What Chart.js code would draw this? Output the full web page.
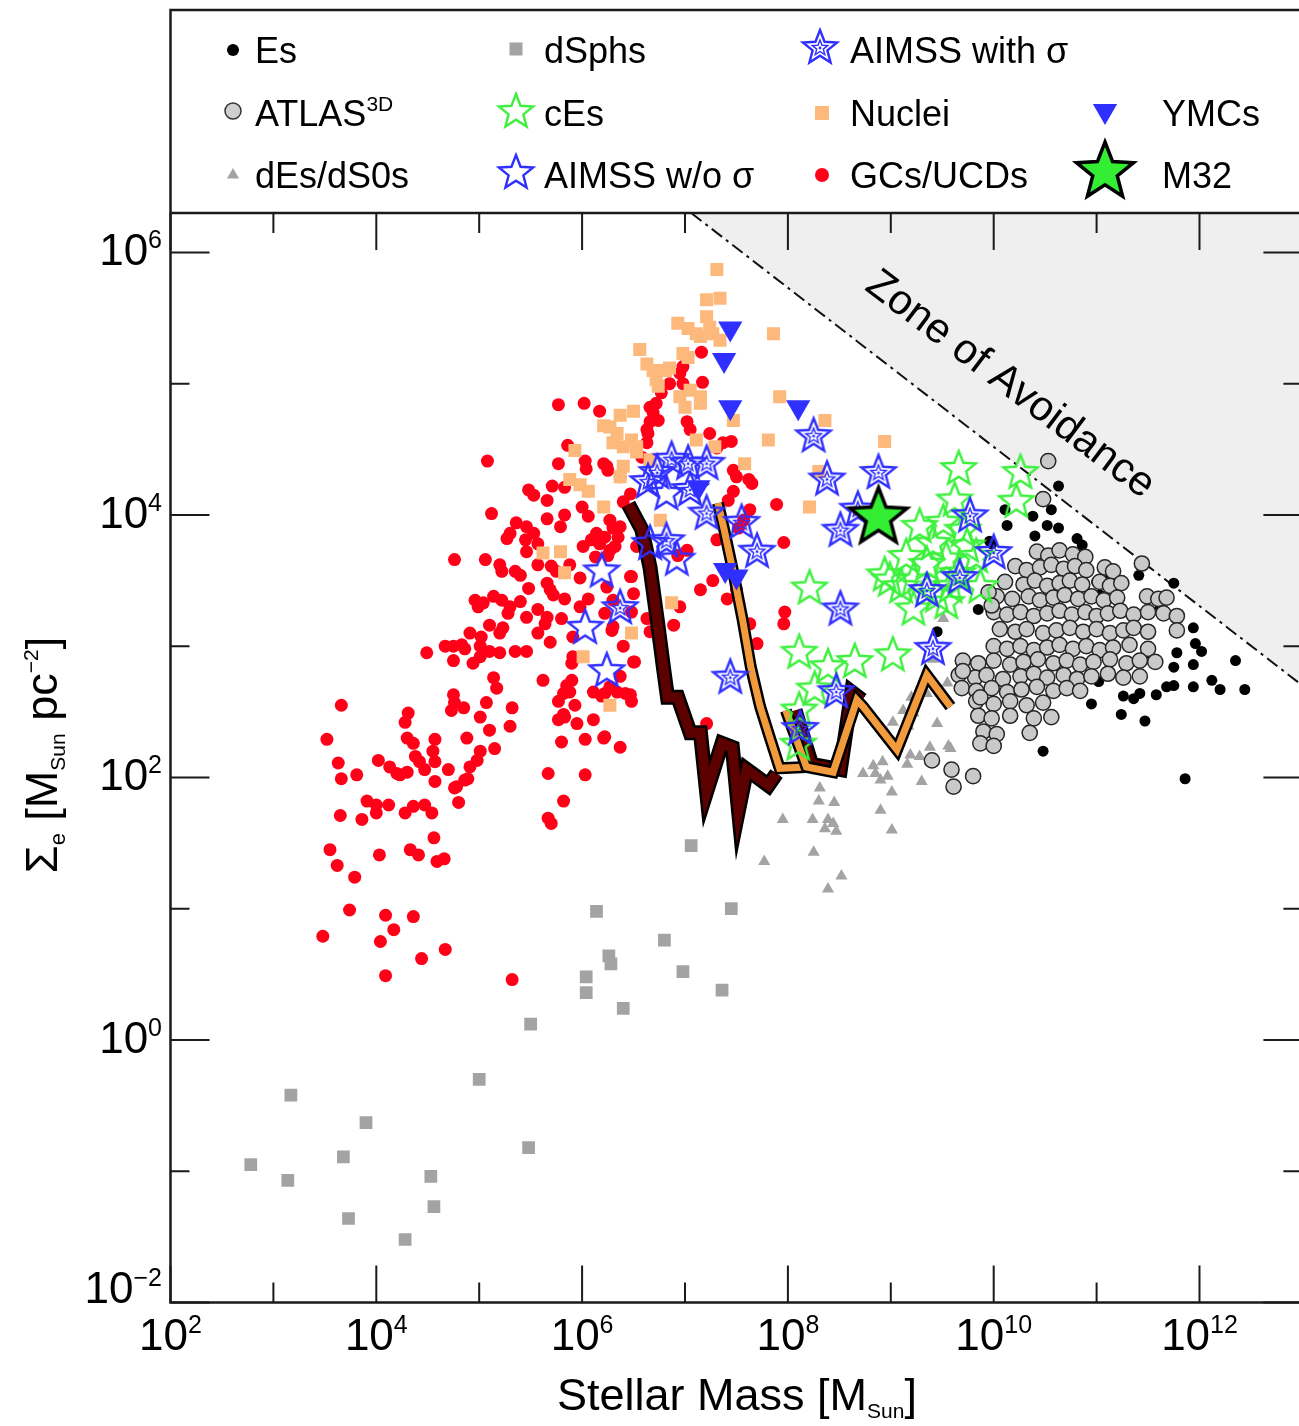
<!DOCTYPE html>
<html>
<head>
<meta charset="utf-8">
<script src="https://cdn.jsdelivr.net/npm/chart.js@4.4.1/dist/chart.umd.min.js"></script>
<style>
html,body{margin:0;padding:0;overflow:hidden;background:#fff;}
canvas{display:block;}
</style>
</head>
<body>
<canvas id="c" width="1304" height="1426"></canvas>
<script>
// ---------- DATA: pairs of [log10 M* (M_Sun), log10 Sigma_e (M_Sun pc^-2)] ----------
const X_TICK_EXPONENTS = [2, 4, 6, 8, 10, 12];
const Y_TICK_EXPONENTS = [-2, 0, 2, 4, 6];

const ES_LOG = [[10.63,4.22],[10.11,4.04],[10.13,3.92],[10.38,3.99],[10.56,4.04],[10.52,3.92],[10.63,3.90],[10.40,3.84],[10.81,3.82],[10.86,3.77],[11.00,3.49],[11.75,3.48],[11.41,3.54],[9.98,3.78],[9.85,3.28],[9.45,3.11],[11.94,3.14],[11.96,3.02],[12.02,2.96],[11.78,2.95],[11.75,2.84],[11.94,2.86],[12.35,2.89],[12.12,2.74],[12.20,2.67],[12.44,2.67],[11.94,2.69],[11.75,2.70],[11.68,2.69],[11.58,2.63],[11.42,2.64],[11.36,2.60],[11.26,2.62],[11.24,2.48],[11.47,2.43],[10.95,2.56],[11.02,2.73],[10.48,2.20],[11.86,1.99],[11.32,3.00],[11.49,2.95],[11.58,3.35],[11.61,3.28],[11.36,3.22],[11.10,3.50],[11.03,3.39],[10.16,2.49],[9.92,2.36],[9.96,3.80]];

const ATLAS_LOG = [[10.53,4.41],[10.48,4.12],[11.44,3.63],
[10.42,3.72],[10.53,3.69],[10.64,3.73],[10.77,3.70],[10.89,3.68],
[10.21,3.61],[10.32,3.58],[10.45,3.60],[10.56,3.62],[10.68,3.59],[10.79,3.61],[10.90,3.58],[11.08,3.60],[11.16,3.57],
[10.11,3.49],[10.29,3.47],[10.40,3.50],[10.52,3.46],[10.64,3.48],[10.74,3.50],[10.86,3.47],[11.03,3.49],[11.13,3.46],[11.24,3.48],
[10.03,3.38],[10.18,3.36],[10.34,3.38],[10.45,3.35],[10.58,3.37],[10.69,3.39],[10.82,3.36],[10.95,3.38],[11.07,3.35],[11.20,3.37],[11.49,3.38],[11.60,3.36],[11.68,3.37],
[10.00,3.26],[10.13,3.24],[10.26,3.26],[10.39,3.23],[10.52,3.25],[10.64,3.27],[10.76,3.24],[10.89,3.26],[11.00,3.23],[11.11,3.25],[11.23,3.27],[11.36,3.24],[11.50,3.26],[11.65,3.25],[11.78,3.23],
[10.06,3.13],[10.21,3.11],[10.32,3.13],[10.48,3.10],[10.61,3.12],[10.74,3.14],[10.87,3.11],[11.00,3.13],[11.13,3.10],[11.26,3.12],[11.36,3.14],[11.50,3.11],[11.78,3.12],
[10.00,3.00],[10.13,2.98],[10.26,3.00],[10.39,2.97],[10.52,2.99],[10.64,3.01],[10.77,2.98],[10.90,3.00],[11.03,2.97],[11.16,2.99],[11.32,3.01],[11.50,2.98],
[9.70,2.89],[9.85,2.87],[10.00,2.89],[10.16,2.86],[10.29,2.88],[10.43,2.90],[10.58,2.87],[10.71,2.89],[10.84,2.86],[10.97,2.88],[11.13,2.90],[11.29,2.87],[11.42,2.89],[11.57,2.88],
[9.66,2.78],[9.82,2.76],[9.93,2.78],[10.09,2.75],[10.26,2.77],[10.39,2.79],[10.52,2.76],[10.68,2.78],[10.81,2.75],[10.95,2.77],[11.11,2.79],[11.26,2.76],[11.42,2.77],
[9.69,2.68],[9.83,2.66],[9.98,2.68],[10.13,2.65],[10.27,2.67],[10.42,2.69],[10.58,2.66],[10.71,2.68],[10.84,2.66],
[9.83,2.58],[10.00,2.56],[10.16,2.58],[10.32,2.55],[10.48,2.57],
[9.85,2.47],[9.98,2.45],[10.16,2.47],[10.39,2.45],[10.56,2.46],
[9.90,2.35],[10.03,2.33],[10.35,2.34],[9.87,2.26],[10.00,2.24],
[9.40,2.13],[9.59,2.06],[9.80,2.01],[9.61,1.93],[9.70,2.81],[9.87,2.61],[9.95,3.41],[9.98,3.31]];

const DES_LOG = [[7.95,1.68],[7.77,1.36],[8.25,1.43],[8.30,1.82],[8.45,1.81],[8.31,1.92],[8.39,1.68],[8.36,1.61],[8.47,1.59],[8.52,1.25],[8.39,1.15],[8.90,1.75],[9.01,1.60],[9.01,1.89],[9.30,1.97],[8.97,2.01],[8.85,2.03],[9.16,2.10],[8.73,2.03],[9.12,2.51],[9.20,2.61],[9.35,2.64],[9.55,2.72],[9.45,2.41],[9.56,2.24],[9.38,2.23],[9.28,2.16],[9.17,2.39],[9.02,2.42],[8.96,2.34],[8.92,2.12],[8.83,2.09],[8.90,1.98],[8.44,1.65],[8.24,1.68],[9.51,3.21],[9.41,2.90],[9.22,2.49],[9.58,2.22],[9.19,2.17]];

const DSPH_LOG = [[7.06,1.48],[6.14,0.98],[7.45,1.00],[6.80,0.76],[6.26,0.64],[6.28,0.58],[6.98,0.52],[6.04,0.48],[6.04,0.36],[7.36,0.38],[6.40,0.24],[5.50,0.12],[5.00,-0.30],[3.17,-0.42],[3.90,-0.63],[3.68,-0.89],[5.48,-0.82],[2.78,-0.95],[4.53,-1.04],[3.14,-1.07],[4.56,-1.27],[3.73,-1.36],[4.28,-1.52]];

const NUCLEI_LOG = [[7.31,5.87],[7.21,5.64],[7.34,5.65],[7.21,5.51],[6.93,5.46],[7.03,5.42],[7.11,5.38],[7.15,5.36],[7.27,5.38],[7.34,5.33],[7.24,5.43],[6.56,5.26],[6.98,5.23],[7.03,5.20],[6.63,5.15],[6.69,5.10],[6.81,5.10],[6.85,5.12],[6.72,5.03],[6.74,4.98],[6.95,4.90],[7.05,4.95],[7.15,4.90],[7.15,4.85],[7.00,4.82],[7.86,5.38],[7.92,4.90],[7.47,4.72],[8.36,4.72],[7.81,4.57],[8.94,4.56],[6.37,4.76],[6.50,4.79],[6.27,4.67],[6.34,4.62],[6.48,4.57],[6.53,4.52],[6.30,4.55],[6.40,4.52],[7.11,4.57],[7.29,4.52],[6.40,4.37],[6.37,4.29],[7.58,4.39],[6.21,4.06],[8.21,4.06],[8.30,4.33],[6.76,3.96],[6.21,4.68],[6.53,4.48],[6.66,4.42],[5.93,4.49],[5.88,4.27],[5.98,4.23],[6.06,4.18],[5.62,3.71],[5.79,3.72],[5.83,3.56],[6.48,3.10],[6.01,2.92],[6.27,2.55],[6.87,3.33]];

const GCS_LOG = [[7.16,5.24],[6.98,5.13],[6.95,5.08],[6.98,5.00],[6.85,5.00],[6.77,4.93],[6.72,4.85],[6.69,4.78],[6.66,4.71],[6.74,4.72],[6.64,4.62],[6.63,4.55],[6.58,4.44],[6.17,4.79],[6.24,4.37],[6.37,4.29],[6.47,4.16],[7.02,4.71],[7.05,4.65],[7.17,5.01],[7.24,4.62],[7.37,4.55],[7.45,4.56],[7.31,4.51],[7.47,4.34],[7.62,4.27],[7.65,4.24],[7.50,4.29],[7.47,4.18],[7.42,4.11],[7.89,4.08],[7.63,4.04],[7.57,3.96],[7.96,3.79],[7.52,3.90],
[6.27,3.96],[6.37,3.91],[6.22,3.83],[6.32,3.76],[6.53,3.76],[6.25,3.69],[6.48,3.53],[6.24,3.45],[6.30,3.35],[6.22,3.25],[6.29,3.12],[6.48,3.26],[6.63,3.21],[6.66,3.11],[6.89,3.16],[6.95,3.30],[7.15,3.43],[7.27,3.50],[7.41,3.36],[7.50,3.43],[7.63,3.17],[7.70,3.02],[7.97,3.26],[7.96,3.17],[7.31,3.81],[7.02,3.73],[6.93,3.69],[7.21,2.41],[6.37,2.23],[6.22,2.31],[6.50,2.88],[6.37,2.77],[6.27,2.69],[6.42,2.64],[6.19,2.62],[6.48,2.58],
[5.77,4.84],[6.02,4.85],[6.66,4.82],[5.08,4.41],[5.86,4.53],[5.77,4.39],[6.03,4.41],[6.04,4.35],[6.21,4.39],[6.25,4.34],[6.63,4.65],[5.48,4.19],[5.53,4.15],[5.66,4.11],[5.71,4.22],[5.83,4.21],[6.40,4.10],[5.12,4.01],[5.66,3.97],[5.83,4.00],[6.00,4.06],[6.06,3.99],[5.79,3.91],[5.36,3.94],[5.46,3.91],[5.30,3.86],[5.53,3.86],[5.27,3.82],[5.45,3.81],[5.46,3.72],[5.57,3.78],[6.14,3.86],[6.17,3.78],[6.09,3.81],[6.01,3.76],[6.30,3.90],[6.35,3.83],[6.27,3.73],[6.13,3.68],[4.76,3.66],[5.06,3.66],[5.20,3.62],[5.22,3.57],[5.35,3.57],[5.40,3.54],[5.57,3.62],[5.70,3.61],[5.75,3.57],[5.88,3.62],[5.98,3.52],[6.47,3.53],[5.48,3.44],[5.66,3.48],[5.69,3.43],[5.72,3.39],[5.83,3.36],[6.06,3.36],[6.50,3.40],[4.96,3.35],[5.04,3.33],[5.14,3.38],[5.22,3.35],[4.99,3.30],[5.30,3.30],[5.40,3.34],[5.28,3.25],[5.46,3.22],[5.57,3.28],[5.66,3.22],[5.64,3.17],[5.80,3.21],[5.98,3.30],[6.30,3.15],[5.10,3.16],[5.23,3.14],[5.20,3.10],[4.91,3.10],[5.02,3.07],[5.01,3.00],[5.57,3.10],[5.69,3.03],[5.91,3.07],[4.67,3.00],[4.75,3.00],[4.83,3.01],[4.86,2.98],[4.49,2.95],[4.75,2.89],[4.94,2.87],[5.01,2.92],[5.10,2.96],[5.20,2.95],[5.35,2.96],[5.46,2.96],[5.90,2.87],[5.91,2.92],[6.40,3.00],[6.51,2.88],[5.62,2.74],[5.14,2.76],[5.17,2.68],[3.66,2.55],[4.75,2.63],[4.76,2.57],[4.85,2.53],[5.07,2.57],[5.32,2.53],[5.77,2.58],[5.82,2.64],[5.88,2.65],[5.93,2.55],[6.11,2.65],[6.22,2.64],[6.34,2.65],[6.47,2.63],[4.31,2.49],[4.28,2.42],[5.01,2.46],[5.30,2.39],[5.10,2.36],[5.77,2.44],[5.82,2.48],[5.95,2.41],[6.11,2.44],[3.52,2.29],[4.30,2.30],[4.36,2.26],[4.57,2.29],[4.88,2.30],[5.01,2.20],[5.15,2.22],[5.80,2.27],[6.03,2.29],[6.21,2.30],
[3.63,2.11],[4.02,2.13],[4.13,2.08],[4.20,2.03],[4.38,2.16],[4.42,2.12],[4.47,2.06],[4.55,2.20],[4.57,2.12],[4.70,2.06],[4.91,2.08],[4.98,2.13],[3.66,1.99],[3.81,2.02],[4.57,1.97],[4.78,1.93],[4.89,1.99],[5.67,2.03],[6.03,2.02],
[4.23,2.02],[4.30,2.04],[4.76,1.92],[4.86,1.98],[4.80,1.81],[3.91,1.82],[4.00,1.79],[4.12,1.79],[3.65,1.71],[3.86,1.68],[4.00,1.73],[4.28,1.73],[4.36,1.78],[4.47,1.79],[4.54,1.73],[3.55,1.45],[3.62,1.33],[3.79,1.24],[4.03,1.41],[4.33,1.45],[4.41,1.41],[4.56,1.54],[4.59,1.36],[4.66,1.38],[5.82,1.82],[5.67,1.69],[5.70,1.65],[3.74,0.99],[4.09,0.95],[4.36,0.94],[4.17,0.84],[4.04,0.75],[3.48,0.79],[4.44,0.62],[4.67,0.69],[4.09,0.49],[5.32,0.46],[4.73,2.51],[5.83,2.46],[5.85,2.70],[5.90,2.74]];

const CES_LOG = [[9.66,4.35],[10.26,4.32],[9.62,4.11],[10.22,4.10],[9.28,3.91],[9.51,3.94],[9.41,3.78],[9.74,3.76],[9.15,3.68],[9.54,3.66],[9.83,3.68],[9.22,3.50],[9.87,3.45],[9.10,3.45],[9.45,3.38],[9.22,3.28],[9.54,3.33],[9.02,2.93],[8.21,3.44],[8.99,3.50],[8.94,3.54],[9.58,3.45],[8.11,2.95],[8.39,2.84],[8.65,2.88],[8.26,2.67],[8.11,2.51],[8.10,2.25],[9.70,3.88],[9.35,3.62],[9.65,3.55]];

const AIMSS_SIGMA_LOG = [[6.73,4.32],[6.87,4.42],[7.03,4.39],[7.21,4.39],[6.64,4.25],[7.05,4.19],[7.21,4.01],[7.55,3.94],[7.70,3.72],[6.82,3.80],[6.37,3.29],[7.44,2.76],[8.25,4.60],[8.38,4.27],[8.88,4.32],[8.51,3.88],[8.68,4.04],[8.51,3.28],[8.47,2.65],[8.12,2.37],[9.77,3.99],[10.00,3.71],[9.67,3.52],[9.35,3.42],[9.41,2.98]];

const AIMSS_NOSIGMA_LOG = [[6.19,3.57],[6.03,3.14],[6.24,2.81],[6.82,4.16],[6.66,3.78],[6.92,3.66]];

const YMC_LOG = [[7.44,5.42],[7.38,5.18],[7.44,4.82],[8.10,4.82],[7.13,4.21],[7.39,3.58],[7.50,3.53]];

const M32_LOG = [[8.88,3.98]];

const MAROON_MAIN_LOG = [[6.45,4.08],[6.58,3.89],[6.66,3.60],[6.73,3.20],[6.79,2.84],[6.83,2.61],[6.93,2.61],[7.05,2.34],[7.15,2.34],[7.21,1.89],[7.36,2.26],[7.46,2.23],[7.52,1.75],[7.60,2.06],[7.81,1.94],[7.89,2.03]];
const MAROON_HOOK_LOG = [[8.07,2.51],[8.23,2.10],[8.51,2.06],[8.62,2.65],[8.72,2.59]];
const ORANGE_STRIPE_LOG = [[7.32,4.09],[7.38,3.89],[7.47,3.56],[7.56,3.20],[7.64,2.84],[7.73,2.54],[7.83,2.29],[7.92,2.07],[8.18,2.08]];
const ORANGE_HOOK_LOG = [[7.98,2.51],[8.18,2.08],[8.44,2.04],[8.67,2.59],[8.73,2.54],[9.06,2.21],[9.35,2.78],[9.58,2.54]];

const ZONE_LOG = [[7.06,6.30],[13.0,2.70]];

// ---------- helpers ----------
const FONT = '"Liberation Sans", Arial, Helvetica, sans-serif';
const toPts = arr => arr.map(([m, s]) => ({ x: Math.pow(10, m), y: Math.pow(10, s) }));

const BLUE = '#2f2fff', GREEN = '#3cf03c', RED = '#ff0018', ORANGE_SQ = '#fdb97c', GREY = '#a3a3a3';

function starCanvas(R, ratio, lw, stroke, fill, inner) {
  const pad = Math.ceil(lw) + 3;
  const s = Math.ceil(2 * R + 2 * pad);
  const c = document.createElement('canvas');
  c.width = s; c.height = s;
  const g = c.getContext('2d');
  const cx = s / 2, cy = s / 2;
  function path(r) {
    g.beginPath();
    for (let i = 0; i < 10; i++) {
      const a = -Math.PI / 2 + i * Math.PI / 5;
      const rr = i % 2 === 0 ? r : r * ratio;
      g.lineTo(cx + rr * Math.cos(a), cy + rr * Math.sin(a));
    }
    g.closePath();
  }
  path(R);
  if (fill) { g.fillStyle = fill; g.fill(); }
  g.lineJoin = 'miter'; g.lineWidth = lw; g.strokeStyle = stroke; g.stroke();
  if (inner) {
    path(R * 0.45); g.lineWidth = lw * 0.6; g.stroke();
    g.beginPath(); g.arc(cx, cy, 1.4, 0, Math.PI * 2); g.fillStyle = stroke; g.fill();
  }
  return c;
}
const STAR_CES = starCanvas(18, 0.43, 2.4, GREEN, null, false);
const STAR_NOSIG = starCanvas(18, 0.43, 2.4, BLUE, null, false);
const STAR_SIG = starCanvas(18, 0.43, 2.4, BLUE, null, true);
const STAR_M32 = starCanvas(30, 0.43, 3.5, '#000', '#33ee33', false);

function scatterSet(label, arr, opts, order) {
  return Object.assign({ label, data: toPts(arr), showLine: false, order,
    pointBorderWidth: 0, pointHoverRadius: 0 }, opts);
}
function trackSets(label, arr, color, wOuter, wInner, order) {
  const base = { showLine: true, pointRadius: 0, pointHoverRadius: 0, tension: 0,
    borderJoinStyle: 'miter', borderCapStyle: 'butt', fill: false };
  return [
    Object.assign({ label: label + ' outline', data: toPts(arr), borderColor: '#000', borderWidth: wOuter, order: order + 0.5 }, base),
    Object.assign({ label, data: toPts(arr), borderColor: color, borderWidth: wInner, order }, base)
  ];
}

const datasets = [
  { label: 'Zone of Avoidance', data: toPts(ZONE_LOG), showLine: true, pointRadius: 0, tension: 0,
    borderColor: '#111', borderWidth: 2, borderDash: [13, 5, 3, 5], fill: 'end', backgroundColor: '#efefef', order: 100 },
  scatterSet('dSphs', DSPH_LOG, { pointStyle: 'rect', pointRadius: 9, pointBackgroundColor: GREY }, 90),
  scatterSet('dEs/dS0s', DES_LOG, { pointStyle: 'triangle', pointRadius: 7, pointBackgroundColor: GREY }, 89),
  scatterSet('Es', ES_LOG, { pointStyle: 'circle', pointRadius: 5.5, pointBackgroundColor: '#000' }, 88),
  scatterSet('ATLAS3D', ATLAS_LOG, { pointStyle: 'circle', pointRadius: 7.6, pointBackgroundColor: '#c9c9c9', pointBorderColor: '#262626', pointBorderWidth: 1.5 }, 87),
  scatterSet('GCs/UCDs', GCS_LOG, { pointStyle: 'circle', pointRadius: 6.5, pointBackgroundColor: RED }, 86),
  scatterSet('Nuclei', NUCLEI_LOG, { pointStyle: 'rect', pointRadius: 9.2, pointBackgroundColor: ORANGE_SQ }, 85),
  ...trackSets('maroon track', MAROON_MAIN_LOG, '#5c0000', 15, 10, 80),
  ...trackSets('maroon track 2', MAROON_HOOK_LOG, '#5c0000', 15, 10, 79),
  ...trackSets('orange track', ORANGE_STRIPE_LOG, '#f29b3d', 12, 7, 76),
  ...trackSets('orange track 2', ORANGE_HOOK_LOG, '#f29b3d', 12, 7, 75),
  scatterSet('cEs', CES_LOG, { pointStyle: STAR_CES }, 60),
  scatterSet('AIMSS w/o σ', AIMSS_NOSIGMA_LOG, { pointStyle: STAR_NOSIG }, 59),
  scatterSet('AIMSS with σ', AIMSS_SIGMA_LOG, { pointStyle: STAR_SIG }, 58),
  scatterSet('YMCs', YMC_LOG, { pointStyle: 'triangle', pointRotation: 180, pointRadius: 14, pointBackgroundColor: BLUE }, 57),
  scatterSet('M32', M32_LOG, { pointStyle: STAR_M32 }, 56)
];

// ---------- text helpers ----------
function richWidth(ctx, parts) {
  let w = 0;
  for (const p of parts) { ctx.font = p.size + 'px ' + FONT; w += ctx.measureText(p.t).width; }
  return w;
}
function drawRich(ctx, parts, x, y) {
  ctx.fillStyle = '#000';
  for (const p of parts) {
    ctx.font = p.size + 'px ' + FONT;
    ctx.fillText(p.t, x, y + (p.dy || 0));
    x += ctx.measureText(p.t).width;
  }
}
function expStr(e) { return e < 0 ? '\u2212' + Math.abs(e) : String(e); }
function powParts(e) { return [{ t: '10', size: 44 }, { t: expStr(e), size: 25, dy: -17 }]; }

// ---------- legend markers ----------
function mDot(ctx, x, y, r, fill, stroke, lw) {
  ctx.beginPath(); ctx.arc(x, y, r, 0, Math.PI * 2); ctx.fillStyle = fill; ctx.fill();
  if (stroke) { ctx.lineWidth = lw; ctx.strokeStyle = stroke; ctx.stroke(); }
}
function mTri(ctx, x, y, r, fill, down) {
  const s = down ? -1 : 1;
  ctx.beginPath();
  ctx.moveTo(x, y - s * r);
  ctx.lineTo(x + r * Math.sqrt(3) / 2, y + s * r / 2);
  ctx.lineTo(x - r * Math.sqrt(3) / 2, y + s * r / 2);
  ctx.closePath(); ctx.fillStyle = fill; ctx.fill();
}
function mSq(ctx, x, y, side, fill) { ctx.fillStyle = fill; ctx.fillRect(x - side / 2, y - side / 2, side, side); }
function mImg(ctx, img, x, y) { ctx.drawImage(img, x - img.width / 2, y - img.height / 2); }

const decor = {
  id: 'decor',
  afterDraw(chart) {
    const ctx = chart.ctx, xs = chart.scales.x, ys = chart.scales.y, a = chart.chartArea;
    ctx.save();
    ctx.strokeStyle = '#1a1a1a';
    ctx.lineWidth = 2.5;
    ctx.beginPath();
    ctx.moveTo(a.left, 10); ctx.lineTo(a.left, a.bottom); ctx.lineTo(1310, a.bottom);
    ctx.moveTo(a.left, a.top); ctx.lineTo(1310, a.top);
    ctx.moveTo(a.left - 1.2, 10); ctx.lineTo(1310, 10);
    ctx.moveTo(a.right, a.top); ctx.lineTo(a.right, a.bottom);
    ctx.stroke();
    ctx.lineWidth = 2;
    ctx.beginPath();
    for (let e = -2; e <= 6; e++) {
      const y = ys.getPixelForValue(Math.pow(10, e));
      const L = (e % 2 === 0) ? 39 : 19;
      ctx.moveTo(a.left, y); ctx.lineTo(a.left + L, y);
      ctx.moveTo(a.right, y); ctx.lineTo(a.right - L, y);
    }
    for (let e = 2; e <= 13; e++) {
      const x = xs.getPixelForValue(Math.pow(10, e));
      const L = (e % 2 === 0) ? 37 : 20;
      ctx.moveTo(x, a.bottom); ctx.lineTo(x, a.bottom - L);
      ctx.moveTo(x, a.top); ctx.lineTo(x, a.top + L);
    }
    ctx.stroke();

    ctx.textBaseline = 'alphabetic'; ctx.textAlign = 'left';
    for (const e of Y_TICK_EXPONENTS) {
      const y = ys.getPixelForValue(Math.pow(10, e));
      const parts = powParts(e);
      const w = richWidth(ctx, parts);
      const base = (e === Y_TICK_EXPONENTS[0]) ? y : y + 13;
      drawRich(ctx, parts, 162 - w, base);
    }
    for (const e of X_TICK_EXPONENTS) {
      const x = xs.getPixelForValue(Math.pow(10, e));
      const parts = powParts(e);
      const w = richWidth(ctx, parts);
      drawRich(ctx, parts, x - w / 2, 1350);
    }

    const xt = [{ t: 'Stellar Mass [M', size: 45 }, { t: 'Sun', size: 21, dy: 8 }, { t: ']', size: 45 }];
    const xtw = richWidth(ctx, xt);
    drawRich(ctx, xt, 737 - xtw / 2, 1410);

    const yt = [{ t: '\u03A3', size: 45 }, { t: 'e', size: 22, dy: 8 }, { t: ' [M', size: 45 },
      { t: 'Sun', size: 21, dy: 8 }, { t: ' pc', size: 45 }, { t: '\u22122', size: 21, dy: -19 }, { t: ']', size: 45 }];
    const ytw = richWidth(ctx, yt);
    ctx.save();
    ctx.translate(57, 755); ctx.rotate(-Math.PI / 2);
    drawRich(ctx, yt, -ytw / 2, 0);
    ctx.restore();

    ctx.save();
    ctx.translate(1010, 385); ctx.rotate(37 * Math.PI / 180);
    ctx.font = '42px ' + FONT; ctx.textAlign = 'center'; ctx.textBaseline = 'middle';
    ctx.fillStyle = '#000';
    ctx.fillText('Zone of Avoidance', 0, 0);
    ctx.restore();

    ctx.textAlign = 'left'; ctx.textBaseline = 'alphabetic';
    const rows = [63, 126, 188];
    const cols = [255, 544, 850, 1162];
    const txt = (parts, c, r) => drawRich(ctx, parts, cols[c], rows[r]);
    const T = s => [{ t: s, size: 36 }];
    mDot(ctx, 233, 50, 6, '#000');                         txt(T('Es'), 0, 0);
    mDot(ctx, 233, 111, 8, '#cfcfcf', '#333', 1.5);        txt([{ t: 'ATLAS', size: 36 }, { t: '3D', size: 21, dy: -15 }], 0, 1);
    mTri(ctx, 233, 175, 7, GREY, false);                   txt(T('dEs/dS0s'), 0, 2);
    mSq(ctx, 516, 49, 13, GREY);                           txt(T('dSphs'), 1, 0);
    mImg(ctx, STAR_CES, 516, 112);                         txt(T('cEs'), 1, 1);
    mImg(ctx, STAR_NOSIG, 516, 173);                       txt(T('AIMSS w/o \u03C3'), 1, 2);
    mImg(ctx, STAR_SIG, 820, 48);                          txt(T('AIMSS with \u03C3'), 2, 0);
    mSq(ctx, 822, 113, 14, ORANGE_SQ);                     txt(T('Nuclei'), 2, 1);
    mDot(ctx, 822, 175, 7, RED);                           txt(T('GCs/UCDs'), 2, 2);
    mTri(ctx, 1105, 111, 14, BLUE, true);                  txt(T('YMCs'), 3, 1);
    mImg(ctx, STAR_M32, 1105, 172);                        txt(T('M32'), 3, 2);
    ctx.restore();
  }
};

new Chart(document.getElementById('c'), {
  type: 'scatter',
  data: { datasets },
  options: {
    responsive: false,
    animation: false,
    devicePixelRatio: 1,
    events: [],
    layout: { autoPadding: false, padding: { left: 170.5, right: 1.6, top: 213, bottom: 123.5 } },
    plugins: { legend: { display: false }, tooltip: { enabled: false } },
    scales: {
      x: { type: 'logarithmic', min: 1e2, max: 1e13, display: false },
      y: { type: 'logarithmic', min: 1e-2, max: Math.pow(10, 6.3), display: false }
    }
  },
  plugins: [decor]
});
</script>
</body>
</html>
